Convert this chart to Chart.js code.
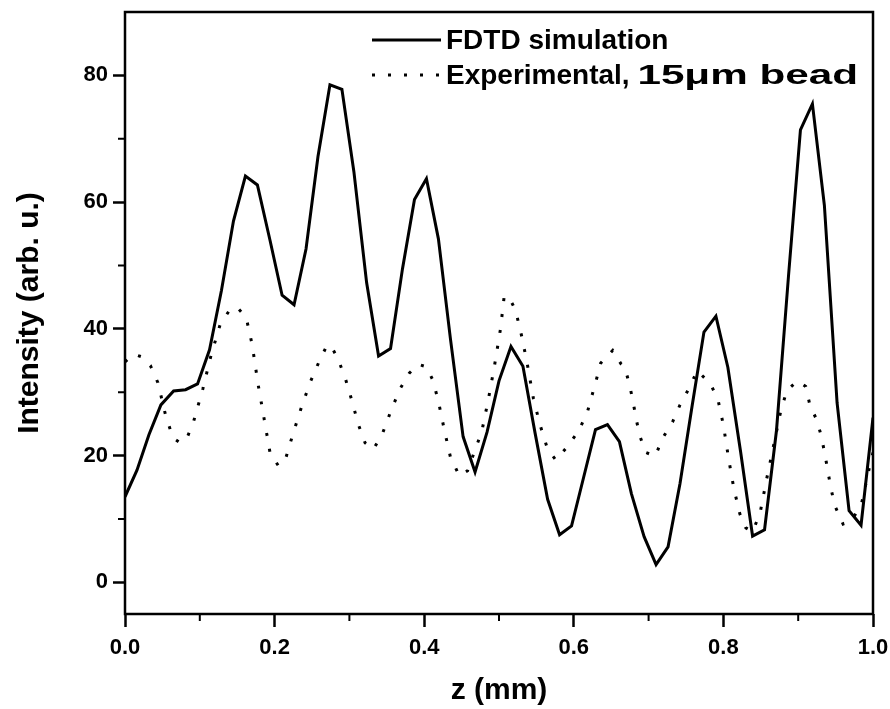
<!DOCTYPE html>
<html>
<head>
<meta charset="utf-8">
<script src="https://cdn.jsdelivr.net/npm/chart.js@4.4.1/dist/chart.umd.min.js"></script>
<style>
  html, body { margin: 0; padding: 0; background: #fff; }
  #wrap { width: 890px; height: 709px; }
</style>
</head>
<body>
<div id="wrap"><canvas id="c" width="890" height="709"></canvas></div>
<script>
// Axial positions (mm) of the simulated profile
const simZ = [0.000, 0.016, 0.032, 0.048, 0.065, 0.081, 0.097, 0.113, 0.129, 0.145,
  0.161, 0.177, 0.194, 0.210, 0.226, 0.242, 0.258, 0.274, 0.290, 0.306,
  0.323, 0.339, 0.355, 0.371, 0.387, 0.403, 0.419, 0.435, 0.452, 0.468,
  0.484, 0.500, 0.516, 0.532, 0.548, 0.565, 0.581, 0.597, 0.613, 0.629,
  0.645, 0.661, 0.677, 0.694, 0.710, 0.726, 0.742, 0.758, 0.774, 0.790,
  0.806, 0.823, 0.839, 0.855, 0.871, 0.887, 0.903, 0.919, 0.935, 0.952,
  0.968, 0.984, 1.000];
// FDTD simulated intensity (arb. u.)
const simIntensity = [13.5, 17.7, 23.3, 28.0, 30.2, 30.4, 31.3, 36.7, 46.1, 57.0,
  64.1, 62.7, 53.9, 45.3, 43.8, 52.6, 67.2, 78.5, 77.8, 64.8,
  47.3, 35.7, 36.9, 49.5, 60.4, 63.7, 54.2, 38.5, 23.0, 17.4,
  23.7, 31.8, 37.2, 34.1, 23.7, 13.1, 7.5, 8.9, 16.5, 24.1,
  24.9, 22.2, 14.0, 7.2, 2.8, 5.6, 15.6, 27.7, 39.5, 42.0,
  33.9, 20.6, 7.3, 8.3, 24.0, 48.3, 71.4, 75.5, 59.5, 28.3,
  11.3, 9.0, 26.0];

// Measured profile, 15 um bead
const expZ = [0.000, 0.012, 0.022, 0.034, 0.044, 0.054, 0.064, 0.074, 0.083, 0.092,
  0.104, 0.115, 0.127, 0.140, 0.150, 0.162, 0.170, 0.178, 0.186, 0.194,
  0.205, 0.214, 0.224, 0.235, 0.247, 0.259, 0.270, 0.276, 0.285, 0.295,
  0.303, 0.312, 0.321, 0.332, 0.344, 0.356, 0.368, 0.380, 0.392, 0.403,
  0.412, 0.420, 0.427, 0.435, 0.447, 0.458, 0.468, 0.477, 0.486, 0.494,
  0.502, 0.507, 0.515, 0.522, 0.530, 0.537, 0.546, 0.555, 0.565, 0.576,
  0.590, 0.606, 0.618, 0.630, 0.636, 0.652, 0.663, 0.668, 0.674, 0.679,
  0.683, 0.688, 0.696, 0.709, 0.718, 0.732, 0.742, 0.754, 0.765, 0.783,
  0.793, 0.800, 0.807, 0.814, 0.822, 0.830, 0.839, 0.849, 0.858, 0.868,
  0.877, 0.885, 0.899, 0.910, 0.916, 0.925, 0.931, 0.936, 0.940, 0.944,
  0.949, 0.960, 0.972, 0.985, 0.995, 1.000];
const expIntensity = [34.8, 36.0, 35.6, 34.2, 31.5, 26.5, 22.8, 22.0, 22.8, 25.5,
  30.5, 35.8, 40.6, 43.0, 43.4, 41.8, 37.5, 31.2, 25.8, 20.4,
  18.4, 19.2, 23.2, 27.3, 31.4, 34.7, 37.4, 37.2, 35.2, 32.0,
  28.8, 24.9, 22.0, 21.0, 23.4, 27.2, 30.6, 33.0, 34.4, 34.0,
  31.8, 28.0, 24.0, 19.8, 16.8, 17.6, 20.9, 23.8, 29.0, 34.2,
  40.0, 45.2, 44.6, 43.0, 39.0, 35.0, 29.0, 24.8, 21.0, 19.3,
  21.2, 23.8, 26.8, 31.9, 34.6, 36.6, 34.5, 34.0, 31.4, 28.7,
  26.0, 23.2, 20.5, 19.9, 22.6, 25.3, 28.0, 30.6, 33.4, 31.3,
  28.7, 24.8, 19.5, 14.8, 10.8, 8.6, 8.0, 10.9, 16.4, 22.1,
  27.2, 30.3, 31.8, 30.9, 27.8, 25.6, 23.0, 20.0, 17.3, 14.7,
  12.1, 9.2, 9.8, 12.6, 18.0, 20.5];

// Axis ticks
const zMajorTicks = [0.0, 0.2, 0.4, 0.6, 0.8, 1.0];
const zMinorTicks = [0.1, 0.3, 0.5, 0.7, 0.9];
const intensityMajorTicks = [0, 20, 40, 60, 80];
const intensityMinorTicks = [10, 30, 50, 70];

const seriesLabels = ['FDTD simulation', 'Experimental, 15\u03bcm bead'];

const FONT = '"Liberation Sans", Arial, Helvetica, sans-serif';

const toPoints = (xs, ys) => xs.map((x, i) => ({ x: x, y: ys[i] }));

// Frame around the plot area plus minor tick marks
const framePlugin = {
  id: 'frame',
  afterDraw(chart) {
    const { ctx, chartArea: a, scales } = chart;
    ctx.save();
    ctx.strokeStyle = '#000';
    ctx.lineWidth = 2.5;
    ctx.strokeRect(a.left, a.top, a.right - a.left, a.bottom - a.top);
    ctx.lineWidth = 2;
    ctx.beginPath();
    zMinorTicks.forEach(v => {
      const px = scales.x.getPixelForValue(v);
      ctx.moveTo(px, a.bottom);
      ctx.lineTo(px, a.bottom + 7);
    });
    intensityMinorTicks.forEach(v => {
      const py = scales.y.getPixelForValue(v);
      ctx.moveTo(a.left, py);
      ctx.lineTo(a.left - 7, py);
    });
    ctx.stroke();
    ctx.restore();
  }
};

// Legend inside the plot, one row per series.
// The part of a label after its comma is set wider, out to the given right edge.
const legendRows = [
  { y: 40, textRight: null },
  { y: 75, textRight: 858 }
];
const legendPlugin = {
  id: 'insideLegend',
  afterDraw(chart) {
    const { ctx } = chart;
    ctx.save();
    chart.data.datasets.forEach((ds, i) => {
      const row = legendRows[i];
      const y = row.y;
      ctx.strokeStyle = ds.borderColor;
      ctx.lineWidth = ds.borderWidth;
      ctx.setLineDash(ds.borderDash || []);
      ctx.lineCap = 'butt';
      ctx.beginPath();
      ctx.moveTo(372, y);
      ctx.lineTo(441, y);
      ctx.stroke();
      ctx.setLineDash([]);
      ctx.fillStyle = '#000';
      ctx.font = 'bold 28px ' + FONT;
      ctx.textAlign = 'left';
      ctx.textBaseline = 'middle';
      const x0 = 446;
      const cut = ds.label.indexOf(', ');
      if (row.textRight && cut > 0) {
        const head = ds.label.slice(0, cut + 1);
        const tail = ds.label.slice(cut + 2);
        ctx.fillText(head, x0, y + 1);
        const tx = x0 + ctx.measureText(head + ' ').width;
        const tw = ctx.measureText(tail).width;
        const sx = (row.textRight - tx) / tw;
        ctx.save();
        ctx.translate(tx, y + 1);
        ctx.scale(sx, 1);
        ctx.fillText(tail, 0, 0);
        ctx.restore();
      } else {
        ctx.fillText(ds.label, x0, y + 1);
      }
    });
    ctx.restore();
  }
};

new Chart(document.getElementById('c'), {
  type: 'line',
  data: {
    datasets: [
      {
        label: seriesLabels[0],
        data: toPoints(simZ, simIntensity),
        borderColor: '#000',
        borderWidth: 3,
        pointRadius: 0,
        tension: 0,
        fill: false
      },
      {
        label: seriesLabels[1],
        data: toPoints(expZ, expIntensity),
        borderColor: '#000',
        borderWidth: 3,
        borderDash: [3, 13],
        borderCapStyle: 'butt',
        pointRadius: 0,
        tension: 0,
        fill: false
      }
    ]
  },
  options: {
    responsive: false,
    animation: false,
    devicePixelRatio: 1,
    layout: { padding: { top: 12, right: 17, left: 0, bottom: 0 } },
    plugins: {
      legend: { display: false },
      tooltip: { enabled: false }
    },
    scales: {
      x: {
        type: 'linear',
        min: 0,
        max: 1,
        afterFit(scale) {
          scale.height = 95;
          scale.paddingLeft = 0; scale.paddingRight = 0;
        },
        afterBuildTicks(scale) { scale.ticks = zMajorTicks.map(v => ({ value: v })); },
        border: { display: false },
        grid: {
          drawOnChartArea: false,
          drawTicks: true,
          tickLength: 13,
          tickWidth: 2.5,
          tickColor: '#000'
        },
        ticks: {
          color: '#000',
          font: { family: FONT, size: 22, weight: 'bold' },
          padding: 8,
          maxRotation: 0,
          callback: v => Number(v).toFixed(1)
        },
        title: {
          display: true,
          text: 'z (mm)',
          color: '#000',
          font: { family: FONT, size: 30, weight: 'bold' },
          padding: { top: -1, bottom: 0 }
        }
      },
      y: {
        type: 'linear',
        min: -5,
        max: 90,
        afterFit(scale) {
          scale.width = 125;
          scale.paddingTop = 0; scale.paddingBottom = 0;
        },
        afterBuildTicks(scale) { scale.ticks = intensityMajorTicks.map(v => ({ value: v })); },
        border: { display: false },
        grid: {
          drawOnChartArea: false,
          drawTicks: true,
          tickLength: 12,
          tickWidth: 2.5,
          tickColor: '#000'
        },
        ticks: {
          color: '#000',
          font: { family: FONT, size: 22, weight: 'bold' },
          padding: 5,
          callback: v => String(v)
        },
        title: {
          display: true,
          text: 'Intensity (arb. u.)',
          color: '#000',
          font: { family: FONT, size: 30, weight: 'bold' },
          padding: { top: 12, bottom: 0 }
        }
      }
    }
  },
  plugins: [framePlugin, legendPlugin]
});
</script>
</body>
</html>
